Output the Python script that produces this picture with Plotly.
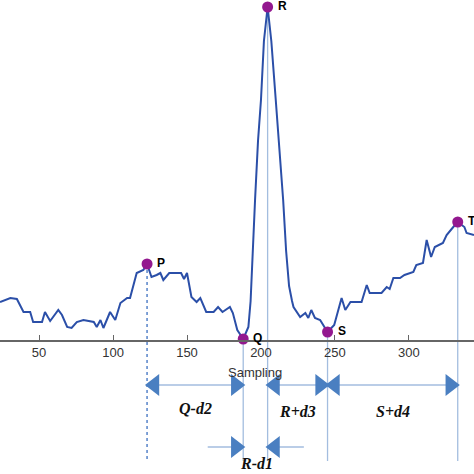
import plotly.graph_objects as go

ecg_x = [23.6, 30.6, 35, 39.5, 44, 46, 52, 54, 57.5, 63, 65.5, 69, 72, 75.5, 80, 87, 89, 91.5, 93.5, 98,
         101.5, 105, 109.5, 111.5, 116, 120.5, 123, 126, 129.5, 132, 134, 138, 146, 148, 150, 153, 156.5,
         159, 163, 168, 171, 174, 179, 181, 184, 188, 191.5, 193, 196, 198, 200, 202, 204.5, 207, 210, 213,
         215, 217, 219, 221, 222, 226.5, 230, 232, 234, 236.5, 240, 245, 249.5, 254.5, 257, 260.5, 268,
         271.5, 273.5, 281.5, 285, 287, 289.5, 294, 297, 303, 305, 309.5, 312, 315, 317.5, 323, 325.5, 330,
         333, 337.5, 339, 344]
ecg_y = [39, 43, 42, 29, 29, 19, 19, 29, 20, 31, 26, 14, 13, 19, 21, 19, 14, 21, 13, 29,
         21, 38, 43, 43, 68, 71, 77, 64, 66, 68, 61, 68, 68, 62, 68, 44, 39,
         43, 29, 29, 34, 29, 34, 28, 11, 2, 14, 40, 141, 200, 241, 300, 334, 300, 241, 180,
         141, 90, 55, 40, 34, 24, 28, 23, 31, 23, 21, 9, 16, 43, 31, 39, 39,
         56, 48, 48, 54, 52, 63, 63, 66, 69, 76, 78, 101, 84, 94, 98, 106, 114,
         119, 114, 108, 106]

pt_names = ["P", "Q", "R", "S", "T"]
pt_x = [123, 188, 204.5, 245, 333]
pt_y = [77, 2, 334, 9, 119]

tick_vals = [50, 100, 150, 200, 250, 300, 350]

ARW = "#4a7fc1"
GUIDE = "#a3bddf"
fig = go.Figure()

def seg(x0, x1, y0, y1, dash="solid", color=GUIDE):
    fig.add_trace(go.Scatter(x=[x0, x1], y=[y0, y1], mode="lines", hoverinfo="skip",
                             line=dict(color=color, width=1.3, dash=dash)))

bottom = -120
seg(pt_x[0], pt_x[0], pt_y[0], bottom, "dot", "#3c6fc0")
for i in (1, 2, 3, 4):
    seg(pt_x[i], pt_x[i], pt_y[i], bottom)
row1 = -44
row2 = -106
seg(pt_x[0], pt_x[1], row1, row1)
seg(pt_x[2], pt_x[3], row1, row1)
seg(pt_x[3], pt_x[4], row1, row1)
seg(164, pt_x[1], row2, row2)
seg(pt_x[2], 229, row2, row2)

fig.add_trace(go.Scatter(x=ecg_x, y=ecg_y, mode="lines", line=dict(color="#2b4fa8", width=2),
                         hoverinfo="skip"))
fig.add_trace(go.Scatter(x=pt_x, y=pt_y, mode="markers", marker=dict(color="#93188f", size=11),
                         cliponaxis=False, hoverinfo="skip"))
for n, x, y in zip(pt_names, pt_x, pt_y):
    fig.add_annotation(x=x, y=y, text="<b>" + n + "</b>", showarrow=False, xanchor="left", xshift=8,
                       yshift=1, font=dict(family="Liberation Sans", size=12, color="black"))

hx_l = [pt_x[0] + 5, pt_x[2] + 5, pt_x[3] + 5, pt_x[2] + 5]
hx_r = [pt_x[1] - 5, pt_x[3] - 5, pt_x[4] - 5, pt_x[1] - 5]
fig.add_trace(go.Scatter(x=hx_l, y=[row1] * 3 + [row2], mode="markers", hoverinfo="skip",
                         marker=dict(symbol="triangle-left", size=19, color=ARW), cliponaxis=False))
fig.add_trace(go.Scatter(x=hx_r, y=[row1] * 3 + [row2], mode="markers", hoverinfo="skip",
                         marker=dict(symbol="triangle-right", size=19, color=ARW), cliponaxis=False))

lab_font = dict(family="Liberation Serif", size=16, color="#111")
for txt, x, y in [("<b><i>Q-d2</i></b>", 156, -67), ("<b><i>R+d3</i></b>", 225, -70),
                  ("<b><i>S+d4</i></b>", 289, -70), ("<b><i>R-d1</i></b>", 197, -122)]:
    fig.add_annotation(x=x, y=y, text=txt, showarrow=False, font=lab_font)

fig.add_annotation(x=196, y=-31, text="Sampling", showarrow=False,
                   font=dict(family="Liberation Sans", size=13, color="#333"))

fig.update_layout(
    width=474, height=474, autosize=False, plot_bgcolor="white", paper_bgcolor="white", showlegend=False,
    margin=dict(l=0, r=0, t=0, b=0, pad=0), hovermode=False,
    xaxis=dict(range=[23.6, 344], tickvals=tick_vals, ticks="inside", ticklen=5, tickcolor="#666",
               showline=True, linecolor="#666", linewidth=1.5, showgrid=False, zeroline=False,
               anchor="free", position=133 / 474, automargin=False,
               tickfont=dict(family="Liberation Sans", size=13, color="#333")),
    yaxis=dict(range=[-133, 341], visible=False, automargin=False),
)
fig.write_html("out.html", config={"responsive": False, "displayModeBar": False},
               post_script="document.body.style.margin='0';document.body.style.padding='0';"
                           "Plotly.relayout('{plot_id}', {width:474, height:474});")
